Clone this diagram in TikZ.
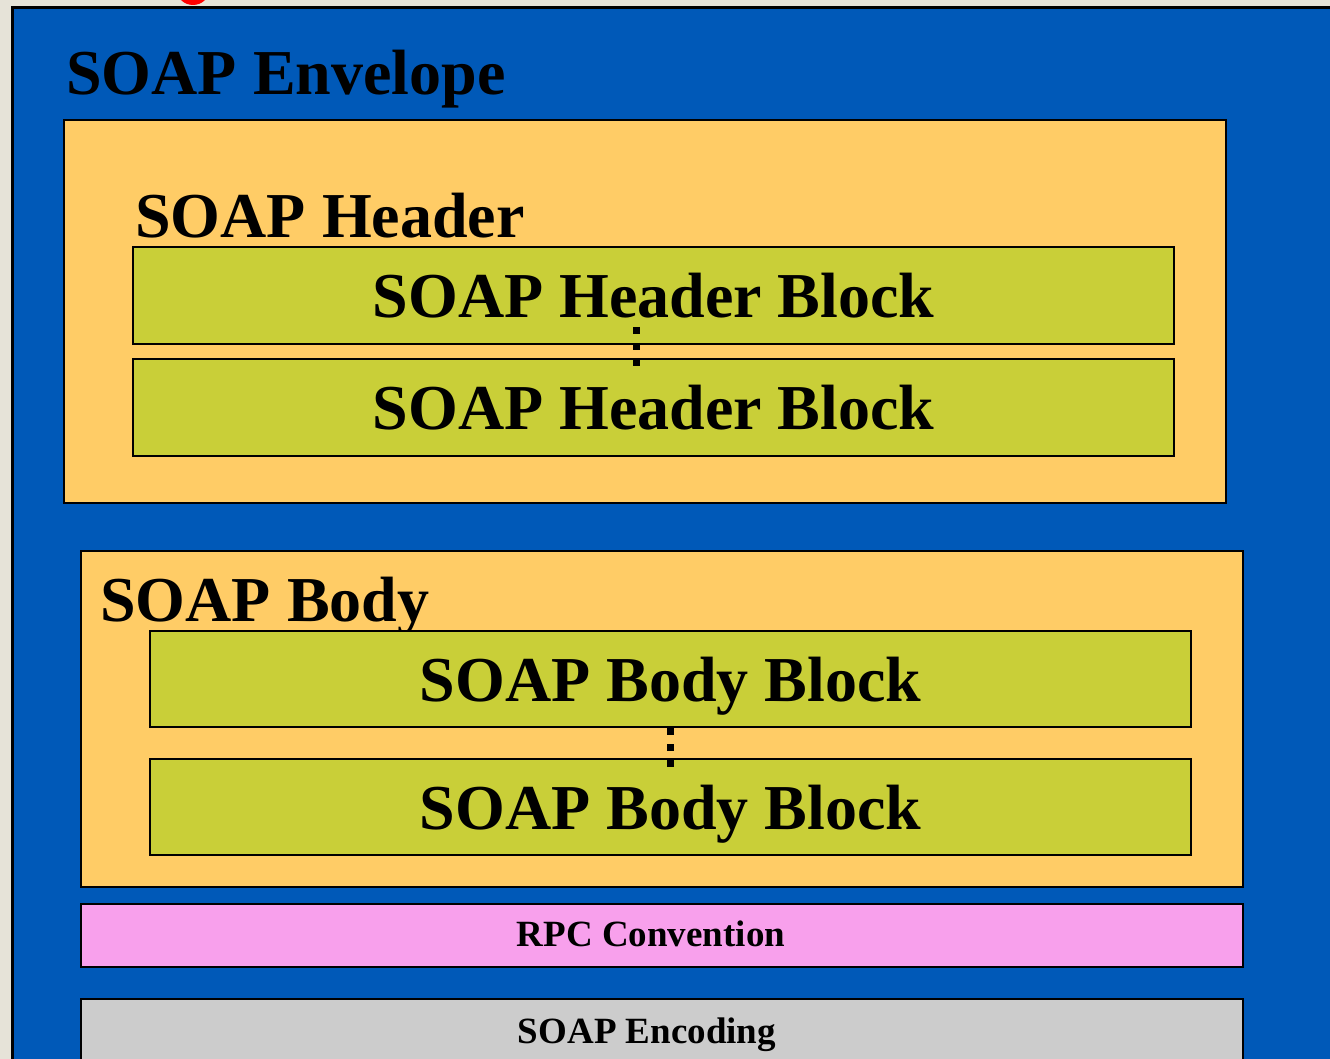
\documentclass[tikz,border=0pt]{standalone}
\usepackage{fontspec}
\setmainfont{Liberation Serif}
\usepackage{tikz}
\definecolor{pagebg}{RGB}{230,227,216}
\definecolor{envblue}{RGB}{0,89,184}
\definecolor{partorange}{RGB}{255,204,102}
\definecolor{blockgreen}{RGB}{201,207,56}
\definecolor{rpcpink}{RGB}{248,160,236}
\definecolor{encgray}{RGB}{204,204,204}
\tikzset{
  box/.style={draw=black, line width=1pt, anchor=north west, inner sep=0pt},
  block/.style={box, fill=blockgreen, minimum width=520.5pt, minimum height=48.5pt, text depth=0pt},
  title/.style={anchor=base west, inner sep=0pt},
  vdots/.style={draw=black, line width=3.5pt, dash pattern=on 3.5pt off 4.5pt}
}
\begin{document}
\begin{tikzpicture}[x=0.5pt, y=-0.5pt, every node/.style={font=\bfseries\fontsize{32}{38}\selectfont}]
			\useasboundingbox[fill=pagebg] (0,0) rectangle (1330,1059);
			\fill[red] (193,-12) circle[radius=17];
			\node[box, line width=1.5pt, fill=envblue, minimum width=700pt, minimum height=560pt] (envelope) at (11,6){};
			\node[title] (envtitle) at (66,95){SOAP Envelope};
			
			\node[box, fill=partorange, minimum width=581pt, minimum height=191.5pt] (header) at (63,119){};
			\node[title] (hdrtitle) at (135,238){SOAP Header};
			\node[block] (hblock1) at (132,246){SOAP Header Block};
			\node[block] (hblock2) at (132,358){SOAP Header Block};
			\path[vdots] (636,327) -- (636,367);
			
			\node[box, fill=partorange, minimum width=581pt, minimum height=168pt] (body) at (80,550){};
			\node[title] (bodytitle) at (100,622){SOAP Body};
			\node[block, minimum height=48pt] (bblock1) at (149,630){SOAP Body Block};
			\node[block, minimum height=48pt] (bblock2) at (149,758){SOAP Body Block};
			\path[vdots] (670,728) -- (670,768);
			
			\node[box, fill=rpcpink, minimum width=581pt, minimum height=31.5pt] (rpc) at (80,903){};
			\node[font=\bfseries\fontsize{18.5}{22}\selectfont] (rpctext) at (651,934){RPC Convention};
			\node[box, fill=encgray, minimum width=581pt, minimum height=60pt] (encoding) at (80,998){};
			\node[font=\bfseries\fontsize{18.5}{22}\selectfont, anchor=base] (enctext) at (647,1043){SOAP Encoding};
			\end{tikzpicture}
\end{document}
